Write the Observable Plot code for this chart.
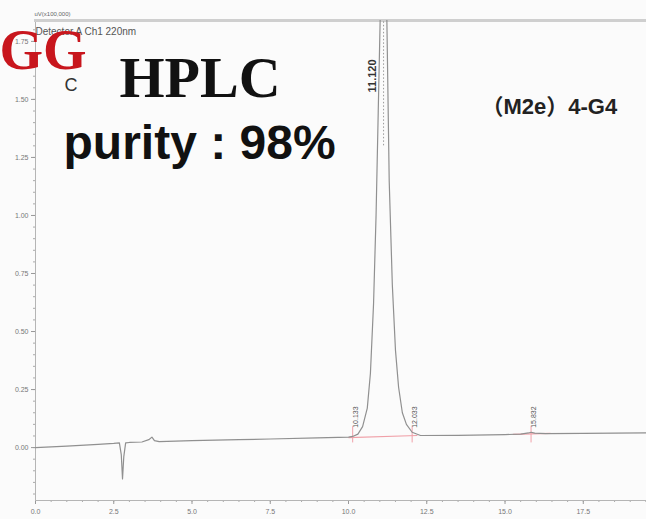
<!DOCTYPE html>
<html>
<head>
<meta charset="utf-8">
<script src="https://cdn.jsdelivr.net/npm/d3@7"></script>
<script src="https://cdn.jsdelivr.net/npm/@observablehq/plot@0.6"></script>
<style>
  html, body { margin: 0; padding: 0; background: #fbfbfb; }
  #chart svg { display: block; }
</style>
</head>
<body>
<div id="chart"></div>
<script>
// Chromatogram (time in minutes, signal in uV x100,000)
const times = [0, 1.0, 2.0, 2.5, 2.68, 2.74, 2.78, 2.82, 2.88, 3.0, 3.4, 3.62, 3.72, 3.8, 3.95, 5.0, 6.5, 7.5, 9.0, 10.0,
  10.133, 10.3, 10.45, 10.6, 10.7, 10.8, 10.88, 10.95, 11.02, 11.08, 11.12, 11.17, 11.23, 11.3, 11.4, 11.5, 11.6, 11.72, 11.85, 12.033, 12.3,
  13.5, 15.0, 15.5, 15.75, 15.832, 15.95, 16.3, 17.5, 18.5, 19.52];
const signal = [0.0, 0.006, 0.014, 0.018, 0.02, -0.03, -0.135, -0.04, 0.02, 0.022, 0.024, 0.034, 0.045, 0.03, 0.026, 0.03, 0.034, 0.037, 0.042, 0.045,
  0.048, 0.058, 0.09, 0.17, 0.32, 0.62, 1.0, 1.45, 1.9, 2.25, 2.4, 2.3, 1.8, 1.15, 0.7, 0.42, 0.26, 0.15, 0.1, 0.066, 0.052,
  0.053, 0.056, 0.058, 0.063, 0.066, 0.062, 0.06, 0.061, 0.062, 0.063];

// Peak annotations
const peakTimes = [10.133, 11.120, 12.033, 15.832];
const peakLabels = ["10.133", "11.120", "12.033", "15.832"];

// Integration baselines (red)
const baseStart = [10.0, 15.25];
const baseStartV = [0.043, 0.057];
const baseEnd = [12.2, 16.45];
const baseEndV = [0.052, 0.061];

// Axis ticks
const xTicks = [0, 2.5, 5, 7.5, 10, 12.5, 15, 17.5];
const yTicks = [0, 0.25, 0.5, 0.75, 1.0, 1.25, 1.5, 1.75];
const xMinor = d3.range(0, 19.6, 0.5);
const yMinor = d3.range(-0.2, 1.84, 0.05);

// Texts
const unitText = "uV(x100,000)";
const detectorText = "Detector A Ch1 220nm";
const logoText = "GG";
const logoSub = "C";
const titleText = "HPLC";
const purityText = "purity : 98%";
const sampleText = "（M2e）4-G4";

const data = times.map((t, i) => ({t, v: signal[i]}));
const peaks = peakTimes.map((t, i) => ({t, label: peakLabels[i], main: i === 1}));
const bases = baseStart.map((t, i) => ({t1: t, v1: baseStartV[i], t2: baseEnd[i], v2: baseEndV[i]}));

const chart = Plot.plot({
  width: 646,
  height: 519,
  marginLeft: 35,
  marginRight: 0,
  marginTop: 20,
  marginBottom: 19,
  style: {background: "#fbfbfb", fontFamily: "Liberation Sans, Arial, sans-serif"},
  x: {domain: [0, 19.52]},
  y: {domain: [-0.228, 1.84]},
  marks: [
    Plot.axisX({ticks: xMinor, tickSize: 2, tickFormat: () => "", stroke: "#aaa"}),
    Plot.axisX({ticks: xTicks, tickSize: 4, tickFormat: d3.format(".1f"), fontSize: 7, fill: "#777", stroke: "#999", tickPadding: 5}),
    Plot.axisY({ticks: yMinor, tickSize: 2, tickFormat: () => "", stroke: "#aaa"}),
    Plot.axisY({ticks: yTicks, tickSize: 4, tickFormat: d3.format(".2f"), fontSize: 7, fill: "#777", stroke: "#999", tickPadding: 3}),
    Plot.frame({anchor: "left", stroke: "#b5b5b5"}),
    Plot.frame({anchor: "bottom", stroke: "#b5b5b5"}),
    Plot.frame({anchor: "top", stroke: "#cfcfcf", strokeWidth: 3}),
    Plot.link(bases, {x1: "t1", y1: "v1", x2: "t2", y2: "v2", stroke: "#f0a0a8", strokeWidth: 1.2}),
    Plot.ruleX(peaks.filter(d => !d.main), {x: "t", y1: 0.02, y2: 0.09, stroke: "#f0a0a8", strokeWidth: 1}),
    Plot.ruleX([11.12], {y1: 1.3, y2: 1.84, stroke: "#999", strokeDasharray: "1.5,2", strokeWidth: 1}),
    Plot.line(data, {x: "t", y: "v", stroke: "#909090", strokeWidth: 1.2, clip: true}),
    Plot.text(peaks.filter(d => !d.main), {x: "t", y: 0.085, text: "label", rotate: -90, textAnchor: "start", dx: 3, fontSize: 7, fill: "#555"}),
    Plot.text(peaks.filter(d => d.main), {x: "t", y: 1.53, text: "label", rotate: -90, textAnchor: "start", dx: -11, fontSize: 11, fontWeight: "bold", fill: "#333"}),
    Plot.text([unitText], {frameAnchor: "top-left", dx: -1, dy: -9, fontSize: 6, fill: "#666", textAnchor: "start"}),
    Plot.text([detectorText], {frameAnchor: "top-left", dx: 0, dy: 7, fontSize: 10, fill: "#555", textAnchor: "start"}),
    Plot.text([logoText], {frameAnchor: "top-left", dx: -36, dy: 31, fontSize: 56, fontWeight: "bold", fontFamily: "Liberation Serif, serif", fill: "#c8161d", textAnchor: "start", lineAnchor: "middle"}),
    Plot.text([logoSub], {frameAnchor: "top-left", dx: 29, dy: 65, fontSize: 18, fill: "#333", textAnchor: "start", lineAnchor: "middle"}),
    Plot.text([titleText], {frameAnchor: "top-left", dx: 84, dy: 58, fontSize: 58, fontWeight: "bold", fontFamily: "Liberation Serif, serif", fill: "#111", textAnchor: "start", lineAnchor: "middle"}),
    Plot.text([purityText], {frameAnchor: "top-left", dx: 28, dy: 123, fontSize: 48, fontWeight: "bold", fill: "#111", textAnchor: "start", lineAnchor: "middle"}),
    Plot.text([sampleText], {frameAnchor: "top-left", dx: 446, dy: 86, fontSize: 22, fontWeight: "bold", fontFamily: "Liberation Sans, Noto Sans CJK SC, sans-serif", fill: "#222", textAnchor: "start", lineAnchor: "middle"})
  ]
});
document.getElementById("chart").appendChild(chart);
</script>
</body>
</html>
